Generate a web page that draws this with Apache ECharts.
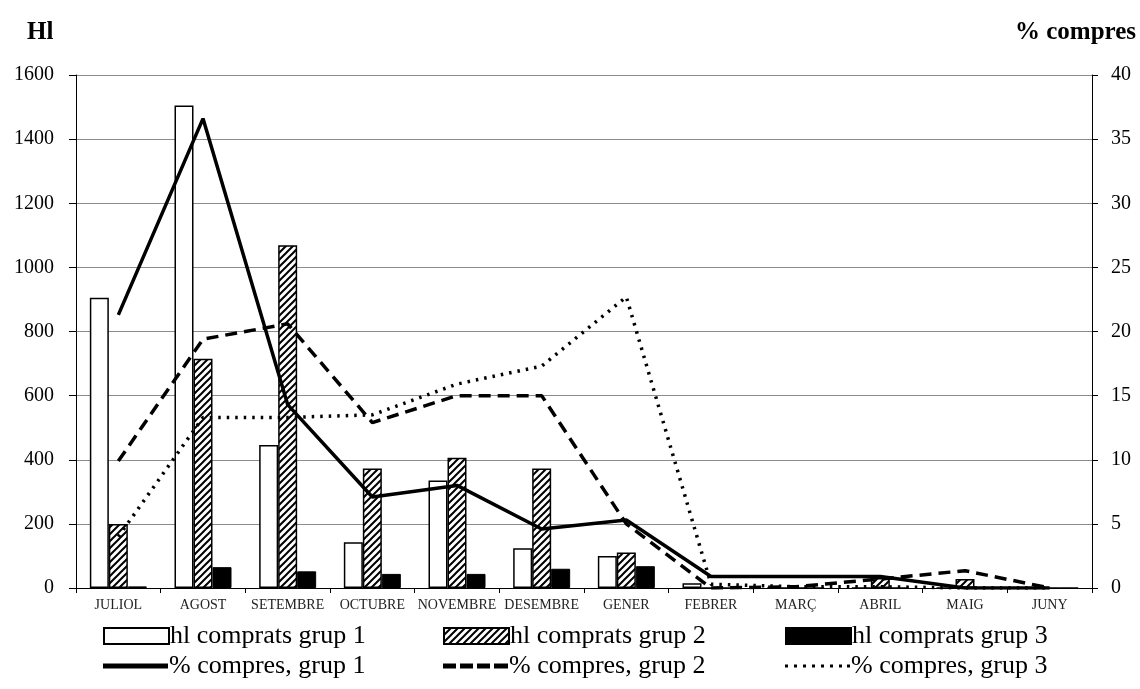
<!DOCTYPE html>
<html>
<head>
<meta charset="utf-8">
<script src="https://cdn.jsdelivr.net/npm/echarts@6/dist/echarts.min.js"></script>
<style>
html,body{margin:0;padding:0;background:#fff;}
#c{width:1140px;height:689px;}
</style>
</head>
<body>
<div id="c"></div>
<script>
var categories = ['JULIOL','AGOST','SETEMBRE','OCTUBRE','NOVEMBRE','DESEMBRE','GENER','FEBRER','MARÇ','ABRIL','MAIG','JUNY'];
var hlGrup1 = [905,1505,446,143,335,124,100,15,0,0,0,0];
var hlGrup2 = [200,715,1069,373,406,373,111,0,0,31,28,0];
var hlGrup3 = [5,65,52,44,44,60,68,0,0,0,0,0];
var pctGrup1 = [21.3,36.6,14.3,7.1,8.0,4.6,5.3,0.9,0.9,0.9,0,0];
var pctGrup2 = [9.9,19.4,20.6,12.9,15.0,15.0,5.0,0,0.1,0.7,1.35,0];
var pctGrup3 = [4.0,13.3,13.3,13.5,15.9,17.3,22.7,0.3,0.1,0.1,0,0];
var leftTicks = [0,200,400,600,800,1000,1200,1400,1600];
var rightTicks = [0,5,10,15,20,25,30,35,40];
var seriesNames = ['hl comprats grup 1','hl comprats grup 2','hl comprats grup 3','% compres, grup 1','% compres, grup 2','% compres, grup 3'];

function hatch(){
  var c = document.createElement('canvas');
  c.width = 7; c.height = 7;
  var g = c.getContext('2d');
  g.fillStyle = '#fff'; g.fillRect(0,0,7,7);
  g.strokeStyle = '#000'; g.lineWidth = 2;
  g.beginPath();
  g.moveTo(-1,8); g.lineTo(8,-1);
  g.moveTo(-4.5,4.5); g.lineTo(4.5,-4.5);
  g.moveTo(2.5,11.5); g.lineTo(11.5,2.5);
  g.stroke();
  return c;
}
var hatchPattern = {image: hatch(), repeat: 'repeat'};

var iconSolid = 'path://M0,0H65V5H0Z';
var iconDashed = 'path://M0,0H13V5H0Z M17,0H30V5H17Z M34,0H47V5H34Z M51,0H65V5H51Z';
var iconDotted = 'path://M0,0H3V3H0Z M9,0H12V3H9Z M18,0H21V3H18Z M27,0H30V3H27Z M36,0H39V3H36Z M45,0H48V3H45Z M54,0H57V3H54Z M62,0H65V3H62Z';

var font = '"Liberation Serif", "DejaVu Serif", serif';
var chart = echarts.init(document.getElementById('c'), null, {renderer:'canvas'});

function legendAt(name, left, top, icon, h){
  return {data:[name], left:left, top:top, icon:icon, itemWidth:65, itemHeight:h, itemGap:0,
    padding:0, selectedMode:false,
    textStyle:{fontFamily:font, fontSize:26, lineHeight:28, color:'#000', padding:[2,0,0,-4]}};
}

var option = {
  backgroundColor:'#fff',
  animation:false,
  grid:{left:76, right:48, top:75, bottom:101, containLabel:false},
  legend:[
    legendAt(seriesNames[0],103,621,'rect',16),
    legendAt(seriesNames[1],443,621,'rect',16),
    legendAt(seriesNames[2],785,621,'rect',16),
    legendAt(seriesNames[3],103,651,iconSolid,5),
    legendAt(seriesNames[4],443,651,iconDashed,5),
    legendAt(seriesNames[5],785,651,iconDotted,3)
  ],
  graphic:[
    {type:'text', left:27, top:20, style:{text:'Hl', fontFamily:font, fontWeight:'bold', fontSize:25, fill:'#000'}},
    {type:'text', left:1015, top:20, style:{text:'% compres', fontFamily:font, fontWeight:'bold', fontSize:25, fill:'#000'}}
  ],
  xAxis:{
    type:'category', data:categories, boundaryGap:true,
    axisLine:{lineStyle:{color:'#000', width:1}},
    axisTick:{show:true, length:5, lineStyle:{color:'#000'}},
    axisLabel:{fontFamily:font, fontSize:14, color:'#222', margin:10, interval:0}
  },
  yAxis:[
    {type:'value', min:0, max:1600, interval:200,
     axisLine:{show:true, lineStyle:{color:'#000', width:1}},
     axisTick:{show:true, length:7, lineStyle:{color:'#000'}},
     axisLabel:{fontFamily:font, fontSize:20, color:'#000', margin:22,
       formatter:function(v){return leftTicks.indexOf(v)>=0 ? String(v) : '';}},
     splitLine:{show:true, lineStyle:{color:'#8c8c8c', width:1}}},
    {type:'value', min:0, max:40, interval:5, position:'right',
     axisLine:{show:true, lineStyle:{color:'#000', width:1}},
     axisTick:{show:true, length:6, lineStyle:{color:'#000'}},
     axisLabel:{fontFamily:font, fontSize:20, color:'#000', margin:19,
       formatter:function(v){return rightTicks.indexOf(v)>=0 ? String(v) : '';}},
     splitLine:{show:false}}
  ],
  series:[
    {name:seriesNames[0], type:'bar', data:hlGrup1, barWidth:19, barGap:'0%',
     itemStyle:{color:'#fff', borderColor:'#000', borderWidth:1.5}},
    {name:seriesNames[1], type:'bar', data:hlGrup2, barWidth:19, barGap:'0%',
     itemStyle:{color:hatchPattern, borderColor:'#000', borderWidth:1.5}},
    {name:seriesNames[2], type:'bar', data:hlGrup3, barWidth:19, barGap:'0%',
     itemStyle:{color:'#000', borderColor:'#000', borderWidth:1}},
    {name:seriesNames[3], type:'line', yAxisIndex:1, data:pctGrup1, symbol:'none',
     itemStyle:{color:'#000'}, lineStyle:{color:'#000', width:3.5, type:'solid'}},
    {name:seriesNames[4], type:'line', yAxisIndex:1, data:pctGrup2, symbol:'none',
     itemStyle:{color:'#000'}, lineStyle:{color:'#000', width:3.5, type:[12,7]}},
    {name:seriesNames[5], type:'line', yAxisIndex:1, data:pctGrup3, symbol:'none',
     itemStyle:{color:'#000'}, lineStyle:{color:'#000', width:3.5, type:[2.5,6]}}
  ]
};
chart.setOption(option);
</script>
</body>
</html>
